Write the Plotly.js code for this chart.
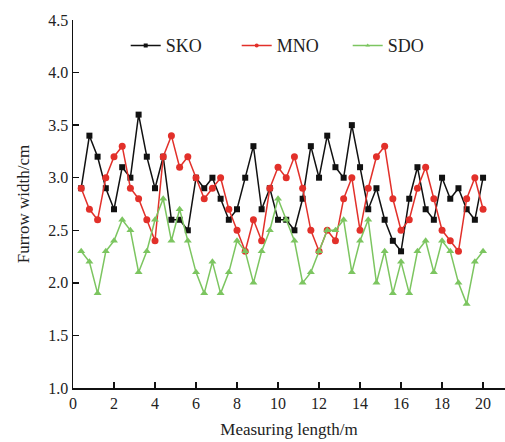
<!DOCTYPE html>
<html><head><meta charset="utf-8">
<script src="https://cdn.plot.ly/plotly-3.0.1.min.js"></script>
<style>html,body{margin:0;padding:0;background:#fff;}#chart{width:505px;height:442px;}</style>
</head><body><div id="chart"></div>
<script>
const lengthM = [0.4,0.8,1.2,1.6,2.0,2.4,2.8,3.2,3.6,4.0,4.4,4.8,5.2,5.6,6.0,6.4,6.8,7.2,7.6,8.0,
  8.4,8.8,9.2,9.6,10.0,10.4,10.8,11.2,11.6,12.0,12.4,12.8,13.2,13.6,14.0,14.4,14.8,15.2,15.6,16.0,
  16.4,16.8,17.2,17.6,18.0,18.4,18.8,19.2,19.6,20.0];
const sko = [2.9,3.4,3.2,2.9,2.7,3.1,3.0,3.6,3.2,2.9,3.2,2.6,2.6,2.5,3.0,2.9,3.0,2.8,2.6,2.7,
  3.0,3.3,2.7,2.9,2.6,2.6,2.5,2.8,3.3,3.0,3.4,3.1,3.0,3.5,3.1,2.7,2.9,2.6,2.4,2.3,
  2.8,3.1,2.7,2.6,3.0,2.8,2.9,2.7,2.6,3.0];
const mno = [2.9,2.7,2.6,3.0,3.2,3.3,2.9,2.8,2.6,2.4,3.2,3.4,3.1,3.2,3.0,2.8,2.9,3.0,2.7,2.5,
  2.3,2.6,2.4,2.9,3.1,3.0,3.2,2.9,2.5,2.3,2.5,2.4,2.8,3.0,2.5,2.9,3.2,3.3,2.8,2.5,
  2.6,2.9,3.1,2.8,2.5,2.4,2.3,2.8,3.0,2.7];
const sdo = [2.3,2.2,1.9,2.3,2.4,2.6,2.5,2.1,2.3,2.6,2.8,2.4,2.7,2.4,2.1,1.9,2.2,1.9,2.1,2.4,
  2.3,2.0,2.3,2.5,2.8,2.6,2.4,2.0,2.1,2.3,2.5,2.5,2.6,2.1,2.4,2.6,2.0,2.3,1.9,2.2,
  1.9,2.3,2.4,2.1,2.4,2.3,2.0,1.8,2.2,2.3];
const seriesNames = ['SKO','MNO','SDO'];
const xTicks = [0,2,4,6,8,10,12,14,16,18,20];
const yTicks = [1.0,1.5,2.0,2.5,3.0,3.5,4.0,4.5];

const font = 'Liberation Serif, Times New Roman, serif';
const colors = ['#111111', '#e2302a', '#7cc560'];
const symbols = ['square', 'circle', 'triangle-up'];
const sizes = [6, 7, 7];
const data = [sko, mno, sdo];
const traces = [];
data.forEach((ys, i) => {
  traces.push({x: lengthM, y: ys, name: seriesNames[i], mode: 'lines+markers', type: 'scatter',
    showlegend: false, legendgroup: seriesNames[i],
    line: {color: colors[i], width: 1.5}, marker: {symbol: symbols[i], size: sizes[i], color: colors[i]}});
});
// legend entries with small markers, as in the reference
data.forEach((ys, i) => {
  traces.push({x: [null], y: [null], name: seriesNames[i], mode: 'lines+markers', type: 'scatter',
    legendgroup: seriesNames[i],
    line: {color: colors[i], width: 1.5}, marker: {symbol: symbols[i], size: 4, color: colors[i]}});
});
const layout = {
  width: 505, height: 442,
  margin: {l: 73, r: 0, t: 20, b: 54},
  paper_bgcolor: '#ffffff', plot_bgcolor: '#ffffff',
  font: {family: font, size: 16, color: '#222'},
  showlegend: true,
  legend: {orientation: 'h', x: 0.122, xanchor: 'left', y: 0.93, yanchor: 'middle',
    font: {family: font, size: 18, color: '#222'}, bgcolor: 'rgba(0,0,0,0)',
    entrywidth: 66, entrywidthmode: 'pixels', traceorder: 'normal'},
  xaxis: {range: [0, 21.07], tickvals: xTicks, ticktext: xTicks.map(String),
    ticks: 'inside', ticklen: 6, tickwidth: 1.5, tickcolor: '#111',
    showline: true, linecolor: '#111', linewidth: 1.5, showgrid: false, zeroline: false,
    tickfont: {family: font, size: 16, color: '#222'},
    title: {text: 'Measuring length/m', font: {family: font, size: 17, color: '#222'}, standoff: 12}},
  yaxis: {range: [1.0, 4.5], tickvals: yTicks, ticktext: yTicks.map(v => v.toFixed(1)),
    ticks: 'inside', ticklen: 6, tickwidth: 1.5, tickcolor: '#111',
    showline: true, linecolor: '#111', linewidth: 1.5, showgrid: false, zeroline: false,
    tickfont: {family: font, size: 16, color: '#222'},
    title: {text: 'Furrow width/cm', font: {family: font, size: 17, color: '#222'}, standoff: 14}}
};
Plotly.newPlot('chart', traces, layout, {displayModeBar: false, staticPlot: true});
</script>
</body></html>
